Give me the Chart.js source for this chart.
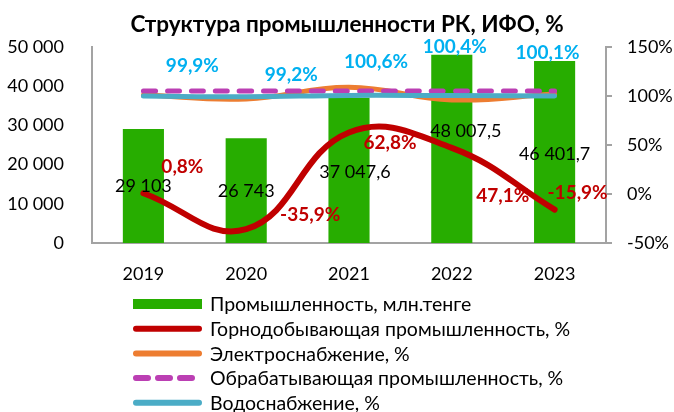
<!DOCTYPE html>
<html>
<head>
<meta charset="utf-8">
<script src="https://cdn.jsdelivr.net/npm/chart.js@4.4.1/dist/chart.umd.min.js"></script>
<style>
  html, body { margin: 0; padding: 0; background: #fff; }
  #wrap { width: 674px; height: 412px; }
</style>
</head>
<body>
<div id="wrap"><canvas id="chart" width="674" height="412"></canvas></div>
<script>
// chart data
const years = ['2019', '2020', '2021', '2022', '2023'];
const industry = [29103, 26743, 37047.6, 48007.5, 46401.7];
const mining = [0.8, -35.9, 62.8, 47.1, -15.9];
const power = [101, 97, 109, 96, 102];
const manufacturing = [105, 105, 105, 105, 105];
const water = [99.9, 99.2, 100.6, 100.4, 100.1];

const industryLabels = ['29 103', '26 743', '37 047,6', '48 007,5', '46 401,7'];

// label nudges (px) relative to the mark they belong to
const barLabelShift = [[0, 0], [0, 1], [6, 2], [14, -18], [0, 2]];
const miningLabelShift = [[39, -26], [64, -14], [41, 10], [51, 48], [23, -17]];
const waterLabelShift = [[49, -30], [45, -22], [27, -34], [3, -49], [-7, -43]];

const FONT = 'Lato, "Open Sans", sans-serif';
const AXIS_GREY = '#a3a3a3';

function fmtThousands(v) {
  return String(Math.round(v)).replace(/\B(?=(\d{3})+(?!\d))/g, ' ');
}
function fmtPct(v) {
  return v.toFixed(1).replace('.', ',') + '%';
}

// title, data labels and legend list drawn on the canvas
const extras = {
  id: 'extras',
  afterDatasetsDraw(chart) {
    const ctx = chart.ctx;
    ctx.save();
    ctx.textAlign = 'center';
    ctx.textBaseline = 'middle';

    // bar values, centred in the bar
    const barMeta = chart.getDatasetMeta(0);
    ctx.font = '18px ' + FONT;
    ctx.fillStyle = '#000';
    barMeta.data.forEach((bar, i) => {
      const mid = (bar.y + bar.base) / 2;
      ctx.fillText(industryLabels[i], bar.x + barLabelShift[i][0], mid + barLabelShift[i][1]);
    });

    // mining %
    const mMeta = chart.getDatasetMeta(1);
    ctx.font = 'bold 19px ' + FONT;
    ctx.fillStyle = '#c00000';
    mMeta.data.forEach((pt, i) => {
      ctx.fillText(fmtPct(mining[i]), pt.x + miningLabelShift[i][0], pt.y + miningLabelShift[i][1]);
    });

    // water %
    const wMeta = chart.getDatasetMeta(4);
    ctx.fillStyle = '#00b0f0';
    wMeta.data.forEach((pt, i) => {
      ctx.fillText(fmtPct(water[i]), pt.x + waterLabelShift[i][0], pt.y + waterLabelShift[i][1]);
    });
    ctx.restore();
  },
  afterDraw(chart) {
    const ctx = chart.ctx;
    ctx.save();
    // title
    ctx.font = 'bold 22.5px ' + FONT;
    ctx.fillStyle = '#000';
    ctx.textAlign = 'center';
    ctx.textBaseline = 'middle';
    ctx.fillText('Структура промышленности РК, ИФО, %', 347, 25);

    // legend list
    const x0 = 133, x1 = 202, textX = 210, top = 304, step = 24.7;
    ctx.font = '19.5px ' + FONT;
    ctx.textAlign = 'left';
    chart.data.datasets.forEach((ds, i) => {
      const y = top + i * step;
      if (ds.type === 'bar') {
        ctx.fillStyle = ds.backgroundColor;
        ctx.fillRect(x0, y - 5, x1 - x0, 10);
      } else {
        ctx.strokeStyle = ds.borderColor;
        ctx.lineWidth = 6;
        ctx.lineCap = 'round';
        ctx.setLineDash(ds.borderDash ? [12, 10] : []);
        ctx.beginPath();
        ctx.moveTo(x0 + 3, y);
        ctx.lineTo(x1 - 3, y);
        ctx.stroke();
        ctx.setLineDash([]);
      }
      ctx.fillStyle = '#000';
      ctx.fillText(ds.label, textX, y + 1);
    });
    ctx.restore();
  }
};

const ctx = document.getElementById('chart').getContext('2d');
new Chart(ctx, {
  data: {
    labels: years,
    datasets: [
      {
        type: 'bar',
        label: 'Промышленность, млн.тенге',
        data: industry,
        backgroundColor: '#27ad00',
        yAxisID: 'y',
        barPercentage: 0.4,
        categoryPercentage: 1,
        order: 10
      },
      {
        type: 'line',
        label: 'Горнодобывающая промышленность, %',
        data: mining,
        borderColor: '#c00000',
        borderWidth: 6,
        tension: 0.42,
        pointRadius: 0,
        borderCapStyle: 'round',
        yAxisID: 'y1',
        order: 4
      },
      {
        type: 'line',
        label: 'Электроснабжение, %',
        data: power,
        borderColor: '#ed7d31',
        borderWidth: 5,
        tension: 0.42,
        pointRadius: 0,
        borderCapStyle: 'round',
        yAxisID: 'y1',
        order: 3
      },
      {
        type: 'line',
        label: 'Обрабатывающая промышленность, %',
        data: manufacturing,
        borderColor: '#bb3fb3',
        borderWidth: 5,
        borderDash: [12, 12],
        borderCapStyle: 'round',
        tension: 0.42,
        pointRadius: 0,
        yAxisID: 'y1',
        order: 2
      },
      {
        type: 'line',
        label: 'Водоснабжение, %',
        data: water,
        borderColor: '#4bacc6',
        borderWidth: 5,
        tension: 0.42,
        pointRadius: 0,
        borderCapStyle: 'round',
        yAxisID: 'y1',
        order: 1
      }
    ]
  },
  options: {
    responsive: false,
    animation: false,
    layout: { padding: { top: 47, bottom: 129, left: 0, right: 0 } },
    plugins: {
      legend: { display: false },
      title: { display: false },
      tooltip: { enabled: false }
    },
    scales: {
      x: {
        offset: true,
        grid: { display: false },
        border: { display: true, color: AXIS_GREY, width: 2 },
        ticks: { color: '#000', font: { family: FONT, size: 18 }, padding: 12 },
        afterFit(s) { s.height = 40; }
      },
      y: {
        position: 'left',
        min: 0,
        max: 50000,
        grid: { display: false },
        border: { display: true, color: AXIS_GREY, width: 2 },
        ticks: {
          stepSize: 10000,
          color: '#000',
          padding: 20,
          font: { family: FONT, size: 18 },
          callback: v => fmtThousands(v)
        },
        afterFit(s) { s.width = 92; }
      },
      y1: {
        position: 'right',
        min: -50,
        max: 150,
        grid: { display: true, drawOnChartArea: false, drawTicks: true, tickLength: 6, color: AXIS_GREY, lineWidth: 2 },
        border: { display: true, color: AXIS_GREY, width: 2 },
        ticks: {
          stepSize: 50,
          color: '#000',
          padding: 15,
          font: { family: FONT, size: 18 },
          callback: v => v + '%'
        },
        afterFit(s) { s.width = 68; }
      }
    }
  },
  plugins: [extras]
});
</script>
</body>
</html>
